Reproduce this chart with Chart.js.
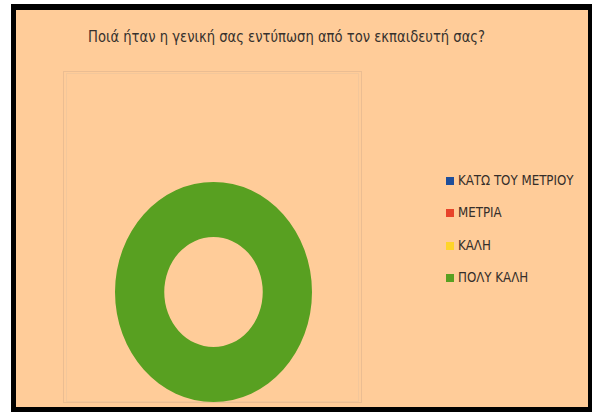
<!DOCTYPE html>
<html lang="el">
<head>
<meta charset="utf-8">
<title>Ποιά ήταν η γενική σας εντύπωση από τον εκπαιδευτή σας?</title>
<script src="https://cdn.jsdelivr.net/npm/chart.js@4/dist/chart.umd.min.js"></script>
<style>
  html, body { margin: 0; padding: 0; background: #ffffff; width: 592px; height: 412px; overflow: hidden; }
  #frame {
    position: absolute; left: 11px; top: 4px; width: 572px; height: 397px;
    border-style: solid; border-color: #000; border-width: 6px 4px 5px 5px;
    background: #FFCC99;
  }
  #title {
    position: absolute; left: 88px; top: 28px; white-space: nowrap;
    font-family: "Liberation Sans Narrow", "Arial Narrow", "DejaVu Sans Condensed", sans-serif;
    font-size: 15px; color: #36312d;
    transform: scaleX(0.975); transform-origin: 0 0;
  }
  #plotBox {
    position: absolute; left: 63px; top: 71px; width: 297px; height: 330px;
    border: 1px solid #ebbd92;
  }
  #plotBoxInner {
    position: absolute; left: 66px; top: 73px; width: 291px; height: 327px;
    border: 1px solid #f3c79b;
  }
  #donut { position: absolute; left: 115px; top: 182px; }
  #legend {
    position: absolute; left: 446px; top: 172px; margin: 0; padding: 0; list-style: none;
    font-family: "Liberation Sans Narrow", "Arial Narrow", "DejaVu Sans Condensed", sans-serif;
    font-size: 14px; color: #352e2a;
  }
  #legend li { height: 32.3px; display: flex; align-items: flex-start; white-space: nowrap; }
  #legend .swatch { width: 8px; height: 8px; margin-top: 5px; margin-right: 4px; flex: none; }
  #legend .label { display: inline-block; transform: scaleX(0.94); transform-origin: 0 0; }
</style>
</head>
<body>
<div id="frame"></div>
<div id="title"></div>
<div id="plotBox"></div>
<div id="plotBoxInner"></div>
<canvas id="donut" width="197" height="220"></canvas>
<ul id="legend"></ul>
<script>
// Survey: overall impression of the instructor
const chartTitle = 'Ποιά ήταν η γενική σας εντύπωση από τον εκπαιδευτή σας?';
const categories = ['ΚΑΤΩ ΤΟΥ ΜΕΤΡΙΟΥ', 'ΜΕΤΡΙΑ', 'ΚΑΛΗ', 'ΠΟΛΥ ΚΑΛΗ'];
const responses = [0, 0, 0, 100];
const sliceColors = ['#1F4E9A', '#E8432A', '#FFD42A', '#58A021'];

document.getElementById('title').textContent = chartTitle;

// The ring is drawn slightly taller than wide: stretch the arcs vertically
// so they fill the whole chart area.
const stretchRing = {
  id: 'stretchRing',
  beforeDatasetsDraw(chart) {
    const { ctx, chartArea: a } = chart;
    const cx = (a.left + a.right) / 2, cy = (a.top + a.bottom) / 2;
    const k = (a.bottom - a.top) / (a.right - a.left);
    ctx.save();
    ctx.translate(cx, cy);
    ctx.scale(1, k);
    ctx.translate(-cx, -cy);
  },
  afterDatasetsDraw(chart) {
    chart.ctx.restore();
  }
};

const chart = new Chart(document.getElementById('donut'), {
  type: 'doughnut',
  data: {
    labels: categories,
    datasets: [{
      data: responses,
      backgroundColor: sliceColors,
      borderWidth: 0
    }]
  },
  options: {
    responsive: false,
    animation: false,
    cutout: '50%',
    layout: { padding: 0 },
    plugins: {
      legend: { display: false },
      title: { display: false },
      tooltip: { enabled: false }
    }
  },
  plugins: [stretchRing]
});

// Legend list built from the chart's own legend items
const items = Chart.overrides.doughnut.plugins.legend.labels.generateLabels(chart);
const list = document.getElementById('legend');
items.forEach(it => {
  const li = document.createElement('li');
  const sw = document.createElement('span');
  sw.className = 'swatch';
  sw.style.background = it.fillStyle;
  const tx = document.createElement('span');
  tx.className = 'label';
  tx.textContent = it.text;
  li.appendChild(sw);
  li.appendChild(tx);
  list.appendChild(li);
});
</script>
</body>
</html>
